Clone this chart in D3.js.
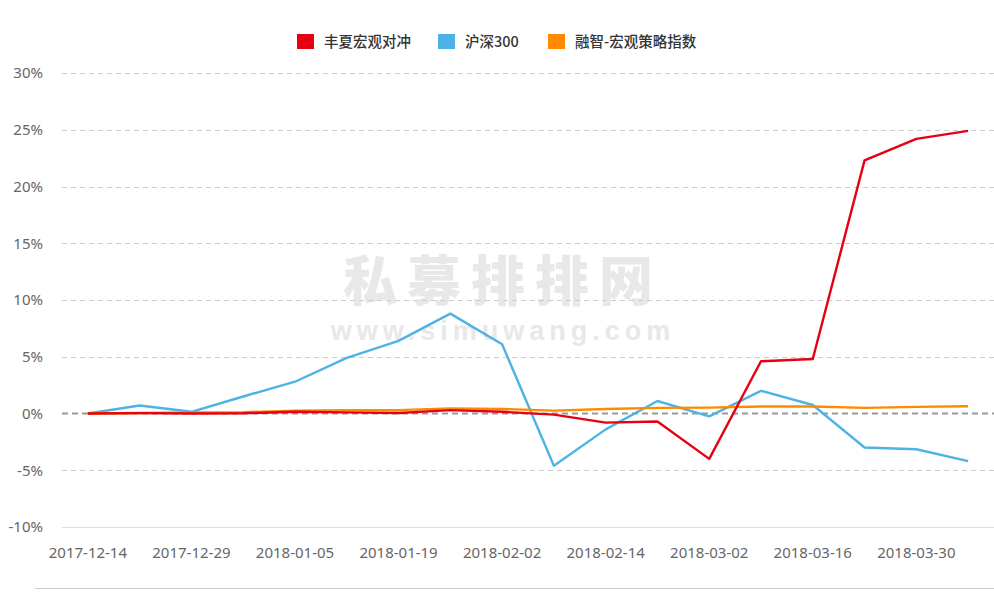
<!DOCTYPE html>
<html>
<head>
<meta charset="utf-8">
<script src="https://cdn.jsdelivr.net/npm/d3@7"></script>
<style>
html,body{margin:0;padding:0;background:#fff;}
svg{display:block;}
</style>
</head>
<body>
<svg id="chart" width="994" height="601"></svg>
<script>
const dates = ["2017-12-14","2017-12-22","2017-12-29","2018-01-02","2018-01-05","2018-01-12","2018-01-19","2018-01-26","2018-02-02","2018-02-09","2018-02-14","2018-02-23","2018-03-02","2018-03-09","2018-03-16","2018-03-23","2018-03-30","2018-04-04"];
const fengxia = [0, 0.03, 0, 0.02, 0.15, 0.1, 0.05, 0.3, 0.15, -0.1, -0.8, -0.7, -4.0, 4.6, 4.8, 22.3, 24.2, 24.9];
const hs300 = [0, 0.7, 0.15, 1.5, 2.8, 4.9, 6.4, 8.8, 6.1, -4.6, -1.4, 1.1, -0.25, 2.0, 0.75, -3.0, -3.15, -4.2];
const rongzhi = [0, 0.05, 0.1, 0.12, 0.25, 0.3, 0.3, 0.45, 0.4, 0.25, 0.4, 0.5, 0.52, 0.62, 0.62, 0.5, 0.58, 0.64];
const yTicks = [-10, -5, 0, 5, 10, 15, 20, 25, 30];
const seriesNames = ["丰夏宏观对冲", "沪深300", "融智-宏观策略指数"];
const seriesColors = ["#e60012", "#4db3e6", "#ff8a00"];

const svg = d3.select("#chart");
const x = d3.scaleBand().domain(dates).range([62, 994]);
const y = d3.scaleLinear().domain([-10, 30]).range([527, 73]);
const cx = d => x(d) + x.bandwidth() / 2;

// watermark
svg.append("text").attr("x", 503).attr("y", 301).attr("text-anchor", "middle")
  .attr("font-family", "'Noto Sans CJK SC', sans-serif").attr("font-weight", 900)
  .attr("font-size", 54).attr("letter-spacing", 10).attr("fill", "#e8e8e8").text("私募排排网");
svg.append("text").attr("x", 503).attr("y", 340).attr("text-anchor", "middle")
  .attr("font-family", "'Liberation Sans', sans-serif").attr("font-weight", "bold")
  .attr("font-size", 27).attr("letter-spacing", 5).attr("fill", "#e8e8e8").text("www.simuwang.com");

// gridlines
const g = svg.append("g");
yTicks.forEach(t => {
  if (t === 0) return;
  g.append("line").attr("x1", 62).attr("x2", 994).attr("y1", Math.round(y(t)) + 0.5).attr("y2", Math.round(y(t)) + 0.5)
    .attr("stroke", t === -10 ? "#dddddd" : "#cccccc").attr("stroke-width", 1)
    .attr("stroke-dasharray", t === -10 ? null : "5,4");
});
// zero line
g.append("line").attr("x1", 62).attr("x2", 994).attr("y1", y(0)).attr("y2", y(0))
  .attr("stroke", "#999").attr("stroke-width", 2).attr("stroke-dasharray", "6,4");

// y labels
const yAxis = d3.axisLeft(y).tickValues(yTicks).tickFormat(d => d + "%").tickSize(0).tickPadding(0);
const ya = svg.append("g").attr("transform", "translate(43,0)").call(yAxis);
ya.select(".domain").remove();
ya.selectAll("text").attr("font-family", "'Noto Sans', 'DejaVu Sans', sans-serif").attr("font-size", 15).attr("fill", "#666");

// x labels
const xAxis = d3.axisBottom(x).tickValues(dates.filter((d, i) => i % 2 === 0 && i < 17)).tickSize(0).tickPadding(0);
const xa = svg.append("g").attr("transform", "translate(0,547)").call(xAxis);
xa.select(".domain").remove();
xa.selectAll("text").attr("font-family", "'Noto Sans', 'DejaVu Sans', sans-serif").attr("font-size", 15).attr("fill", "#666");

// bottom line
svg.append("line").attr("x1", 35).attr("x2", 994).attr("y1", 588.5).attr("y2", 588.5).attr("stroke", "#cccccc");

// lines
const line = d3.line().x((d, i) => cx(dates[i])).y(d => y(d));
const data = [fengxia, hs300, rongzhi];
[1, 2, 0].forEach(k => {
  svg.append("path").datum(data[k]).attr("d", line).attr("fill", "none")
    .attr("stroke", seriesColors[k]).attr("stroke-width", 2.4).attr("stroke-linejoin", "round");
});

// legend
const legX = [297, 438, 548];
seriesNames.forEach((n, i) => {
  svg.append("rect").attr("x", legX[i]).attr("y", 34).attr("width", 17).attr("height", 15).attr("fill", seriesColors[i]);
  svg.append("text").attr("x", legX[i] + 27).attr("y", 47).attr("font-family", "'Noto Sans CJK SC', sans-serif")
    .attr("font-weight", 500).attr("font-size", 14.5).attr("fill", "#333").text(n);
});
</script>
</body>
</html>
